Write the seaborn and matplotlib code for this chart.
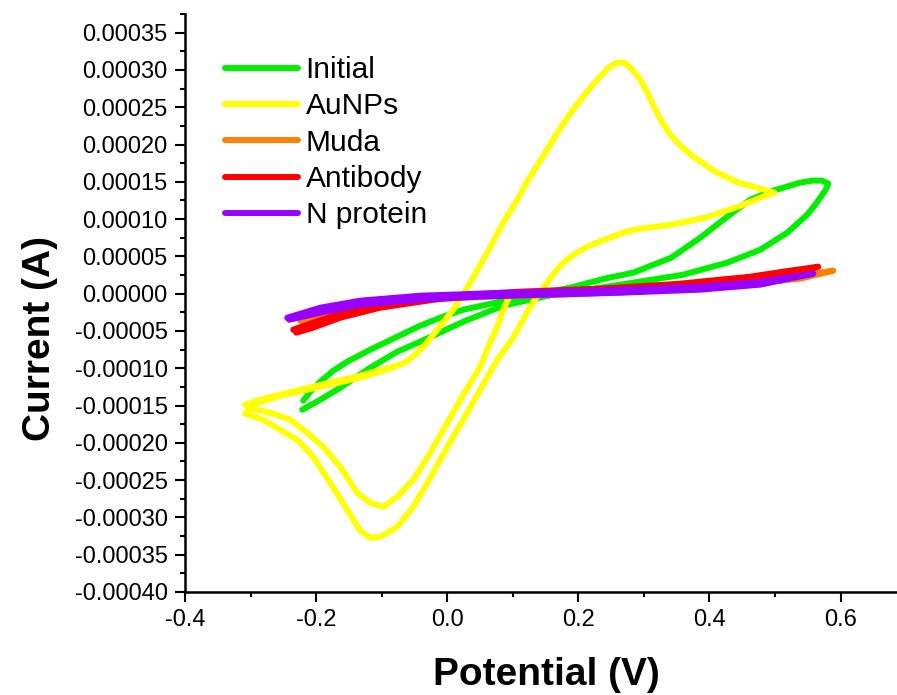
import numpy as np
import pandas as pd
import matplotlib
matplotlib.use("Agg")
import matplotlib.pyplot as plt
from matplotlib.ticker import MultipleLocator, FormatStrFormatter
import seaborn as sns

# Cyclic voltammograms: potential (V) and current (1e-5 A) in scan order
initial_E = [-0.2197, -0.209, -0.1937, -0.1739, -0.1526, -0.1175, -0.0763, -0.0412, -0.0107, 0.0244,
             0.0809, 0.1373, 0.1876, 0.2395, 0.2838, 0.3417, 0.386, 0.4272, 0.4622, 0.4973,
             0.5385, 0.5568, 0.5721, 0.5812, 0.5782, 0.5721, 0.5614, 0.5492, 0.5187, 0.4775,
             0.4272, 0.36, 0.2838, 0.2334, 0.1617, 0.0854, 0.0244, -0.0412, -0.0763, -0.1175,
             -0.1632, -0.1937, -0.2212]
initial_I = [-14.35, -13.15, -11.8, -10.33, -9.12, -7.51, -5.77, -4.29, -3.22, -2.15,
             -1.07, 0.0, 0.8, 2.01, 2.82, 4.83, 7.51, 10.33, 12.61, 13.82,
             14.89, 15.16, 15.16, 14.76, 14.09, 13.28, 11.94, 10.6, 8.18, 5.9,
             4.16, 2.55, 1.48, 0.8, -0.13, -1.61, -3.76, -6.44, -7.78, -9.93,
             -12.61, -14.22, -15.56]

aunps_E = [
    # first cathodic sweep
    0.0961, 0.0854, 0.0763, 0.0625, 0.0503, 0.0244, 0.0, -0.0259, -0.0519, -0.0763,
    -0.0976, -0.1175, -0.1373, -0.1632, -0.1892, -0.2136, -0.2395, -0.27, -0.2975, -0.3082,
    # anodic sweep
    -0.2746, -0.2243, -0.1785, -0.1327, -0.087, -0.0641, -0.0488, -0.0336, -0.0153, 0.0092,
    0.0351, 0.061, 0.0854, 0.1068, 0.1236, 0.1495, 0.1709, 0.1953, 0.2197, 0.2334,
    0.2456, 0.2593, 0.27, 0.2822, 0.2944, 0.3051, 0.3173, 0.328, 0.3402, 0.3555,
    0.3753, 0.4088, 0.4439, 0.4775, 0.4989,
    # second cathodic sweep
    0.4775, 0.4439, 0.3936, 0.3417, 0.2944, 0.2731, 0.2395, 0.2136, 0.1953, 0.177,
    0.1648, 0.1526, 0.1388, 0.1266, 0.1007, 0.0763, 0.0503, 0.0244, 0.0, -0.0259,
    -0.0519, -0.0763, -0.1022, -0.1175, -0.1327, -0.1526, -0.1785, -0.2044, -0.2288, -0.2548,
    -0.2807, -0.3082,
    # start of second anodic sweep
    -0.2929, -0.2548, -0.1937, -0.1327, -0.0793]
aunps_I = [
    -0.13, -2.15, -4.43, -7.11, -9.79, -13.55, -17.31, -21.33, -24.95, -27.23,
    -28.58, -28.04, -26.70, -23.21, -20.53, -18.65, -16.90, -15.96, -15.43, -14.89,
    -13.95, -12.88, -11.94, -11.0, -9.93, -9.26, -8.18, -6.84, -4.83, -2.15,
    1.48, 5.50, 9.53, 12.61, 15.29, 18.92, 22.0, 25.09, 27.77, 29.11,
    30.32, 30.99, 30.99, 30.05, 28.71, 26.97, 24.69, 22.94, 21.33, 19.86,
    18.38, 16.37, 14.89, 14.09, 13.55,
    12.88, 11.67, 10.20, 9.26, 8.72, 8.32, 7.24, 6.31, 5.37, 4.16,
    2.95, 1.48, -0.13, -1.74, -5.90, -8.85, -12.88, -16.90, -20.53, -24.69,
    -28.58, -31.26, -32.60, -32.73, -31.80, -28.98, -25.36, -21.87, -19.59, -18.25,
    -16.90, -16.10,
    -14.76, -13.68, -12.48, -11.27, -9.79]

muda_E = [-0.2243, -0.1785, -0.1022, 0.0, 0.1114, 0.2334, 0.3555, 0.4622, 0.5385, 0.5889,
          0.5385, 0.4165, 0.2944, 0.1724, 0.0503, -0.0717, -0.1632, -0.2197]
muda_I = [-3.62, -2.55, -1.21, -0.4, 0.13, 0.4, 0.94, 1.74, 2.41, 3.09,
          2.01, 0.94, 0.27, -0.13, -0.4, -1.07, -2.55, -3.76]

antibody_E = [-0.235, -0.2047, -0.1632, -0.1022, 0.0, 0.1114, 0.2334, 0.3555, 0.4622, 0.5233,
              0.566, 0.5385, 0.4622, 0.3555, 0.2334, 0.1114, 0.0, -0.1022, -0.1632, -0.2047,
              -0.2304]
antibody_I = [-4.83, -3.89, -2.68, -1.34, -0.27, 0.27, 0.67, 1.34, 2.28, 3.09,
              3.62, 2.82, 1.88, 0.94, 0.4, 0.0, -0.54, -1.88, -3.22, -4.56,
              -5.23]

nprotein_E = [-0.2441, -0.1937, -0.1327, -0.0412, 0.0503, 0.1571, 0.2639, 0.386, 0.4775, 0.5584,
              0.4775, 0.386, 0.2639, 0.1571, 0.0503, -0.0412, -0.1327, -0.1937, -0.241]
nprotein_I = [-3.22, -1.88, -0.94, -0.27, 0.0, 0.27, 0.54, 0.94, 1.61, 2.68,
              1.21, 0.54, 0.13, -0.13, -0.4, -0.8, -1.48, -2.55, -3.49]

labels = ["Initial", "AuNPs", "Muda", "Antibody", "N protein"]
colors = ["#00F000", "#FFFF00", "#FF8000", "#FF0000", "#9900FF"]
series = [(initial_E, initial_I), (aunps_E, aunps_I), (muda_E, muda_I),
          (antibody_E, antibody_I), (nprotein_E, nprotein_I)]

frames = []
for name, (E, I) in zip(labels, series):
    frames.append(pd.DataFrame({
        "Potential": E,
        "Current": np.asarray(I) * 1e-5,
        "Sample": name,
        "step": np.arange(len(E)),
    }))
df = pd.concat(frames, ignore_index=True)

sns.set_style("ticks")
plt.rcParams["font.family"] = ["Liberation Sans", "DejaVu Sans"]
plt.rcParams["lines.solid_capstyle"] = "round"
plt.rcParams["lines.solid_joinstyle"] = "round"
for key in ["text.color", "axes.labelcolor", "xtick.color", "ytick.color", "axes.edgecolor"]:
    plt.rcParams[key] = "black"

fig = plt.figure(figsize=(8.97, 6.95), dpi=100)
W, H = 897, 695
ax = fig.add_axes([185 / W, (H - 592) / H, 712 / W, (592 - 14) / H])

sns.lineplot(data=df, x="Potential", y="Current", hue="Sample", hue_order=labels,
             palette=colors, sort=False, estimator=None, units="Sample",
             linewidth=4.3, ax=ax, legend=True)

ax.set_xlim(-0.4, 0.686)
ax.set_ylim(-0.0004, 0.000375)

ax.xaxis.set_major_locator(MultipleLocator(0.2))
ax.xaxis.set_minor_locator(MultipleLocator(0.1))
ax.yaxis.set_major_locator(MultipleLocator(0.00005))
ax.yaxis.set_minor_locator(MultipleLocator(0.000025))
ax.xaxis.set_major_formatter(FormatStrFormatter("%.1f"))
ax.yaxis.set_major_formatter(FormatStrFormatter("%.5f"))

for side in ["top", "right"]:
    ax.spines[side].set_visible(False)
for side in ["left", "bottom"]:
    ax.spines[side].set_linewidth(1.8)
    ax.spines[side].set_color("black")

ax.tick_params(which="major", direction="out", length=7.5, width=1.5,
               labelsize=17, pad=5, colors="black")
ax.tick_params(which="minor", direction="out", length=3.8, width=1.5, colors="black")

ax.set_xlabel("Potential (V)", fontsize=28, fontweight="bold")
ax.set_ylabel("Current (A)", fontsize=28, fontweight="bold")
ax.xaxis.set_label_coords(0.507, -0.112)
ax.yaxis.set_label_coords(-0.178, 0.438)

handles, _ = ax.get_legend_handles_labels()
ax.get_legend().remove()
leg = ax.legend(handles, labels, loc="upper left", bbox_to_anchor=(40 / 712, 1 - 42 / 578),
                frameon=False, fontsize=21.5, handlelength=2.45, handletextpad=0.25,
                labelspacing=0.28, borderpad=0, borderaxespad=0)
for line in leg.get_lines():
    line.set_linewidth(4.3)
    line.set_solid_capstyle("round")

fig.savefig("out.png", dpi=100)
